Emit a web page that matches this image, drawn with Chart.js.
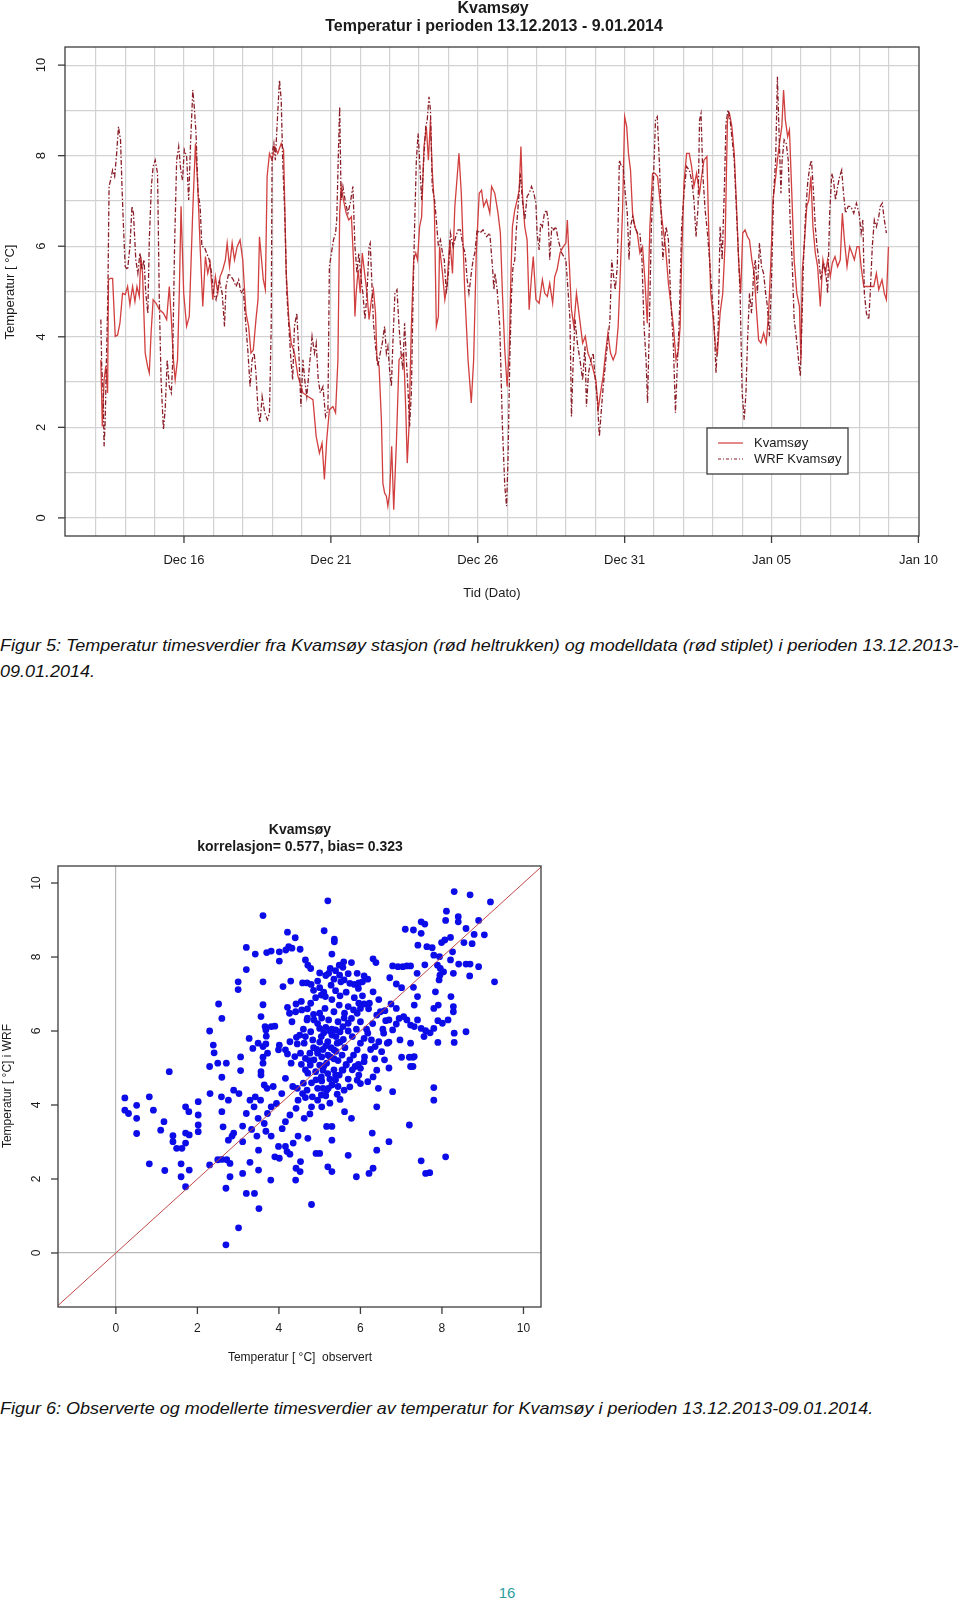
<!DOCTYPE html>
<html>
<head>
<meta charset="utf-8">
<script src="https://cdn.jsdelivr.net/npm/chart.js@4.4.1/dist/chart.umd.min.js"></script>
<style>
  body { margin: 0; background: #fff; width: 960px; height: 1606px; position: relative; overflow: hidden;
         font-family: "Liberation Sans", Arial, sans-serif; }
  canvas { position: absolute; left: 0; }
  .cap { position: absolute; left: 0; font-style: italic; font-size: 17px; line-height: 20px;
         white-space: nowrap; transform-origin: 0 0; color: #111; }
  #page { position: absolute; left: 0; width: 1014px; top: 1583px; text-align: center;
          color: #2b9ea0; font-size: 15px; line-height: 20px; }
</style>
</head>
<body>
<canvas id="chartTemperatur" width="960" height="610" style="top:0"></canvas>
<div class="cap" id="cap5a" style="top:636px">Figur 5: Temperatur timesverdier fra Kvamsøy stasjon (rød heltrukken) og modelldata (rød stiplet) i perioden 13.12.2013-</div>
<div class="cap" id="cap5b" style="top:662px">09.01.2014.</div>
<canvas id="chartScatter" width="960" height="580" style="top:800px"></canvas>
<div class="cap" id="cap6" style="top:1399px">Figur 6: Observerte og modellerte timesverdier av temperatur for Kvamsøy i perioden 13.12.2013-09.01.2014.</div>
<div id="page">16</div>

<script>
// Tidsserie: [dager etter 13.12.2013 00:00, temperatur °C]
const obsSeries = [
  [0.17,3.49],[0.22,2.02],[0.28,3.05],[0.34,3.35],[0.40,2.76],[0.43,5.26],[0.49,5.29],[0.57,5.29],
  [0.66,4.01],[0.74,4.04],[0.82,4.30],[0.91,4.96],[1.00,4.93],[1.08,5.11],[1.16,4.71],[1.25,5.11],
  [1.33,4.78],[1.40,5.11],[1.48,4.89],[1.53,5.77],[1.59,5.40],[1.68,3.64],[1.76,3.35],[1.82,3.20],
  [1.88,4.08],[1.95,4.82],[2.05,4.74],[2.16,4.60],[2.30,4.52],[2.41,4.38],[2.50,5.11],[2.57,4.38],
  [2.64,3.49],[2.70,3.05],[2.78,3.49],[2.84,4.96],[2.90,6.88],[2.99,4.96],[3.09,4.23],[3.18,4.45],
  [3.30,6.80],[3.39,8.27],[3.47,7.32],[3.55,5.99],[3.64,4.67],[3.73,5.77],[3.81,5.40],[3.89,5.63],
  [3.98,4.82],[4.07,5.33],[4.15,4.96],[4.23,5.33],[4.32,5.48],[4.41,5.70],[4.47,6.07],[4.55,5.55],
  [4.64,6.07],[4.72,5.70],[4.81,5.99],[4.91,6.14],[5.00,5.70],[5.11,4.52],[5.20,4.23],[5.28,3.64],
  [5.36,3.71],[5.45,4.38],[5.52,4.82],[5.57,6.21],[5.64,5.70],[5.70,5.26],[5.77,5.04],[5.83,7.54],
  [5.91,8.05],[6.00,7.90],[6.09,8.20],[6.19,8.05],[6.31,8.27],[6.39,8.13],[6.48,5.40],[6.57,4.38],
  [6.65,3.86],[6.76,3.64],[6.88,3.13],[7.05,2.76],[7.22,2.68],[7.39,2.61],[7.50,1.80],[7.61,1.43],
  [7.70,1.65],[7.78,0.85],[7.86,1.73],[7.95,2.39],[8.07,2.46],[8.16,2.32],[8.24,3.49],[8.30,6.73],
  [8.35,7.32],[8.43,7.02],[8.52,6.73],[8.61,6.58],[8.70,6.65],[8.77,5.70],[8.82,4.45],[8.86,4.96],
  [8.93,5.48],[9.00,4.96],[9.07,5.85],[9.15,5.40],[9.23,4.96],[9.30,4.38],[9.38,4.82],[9.45,5.04],
  [9.52,4.52],[9.57,3.49],[9.64,3.35],[9.72,2.17],[9.77,0.77],[9.83,0.55],[9.89,0.48],[9.94,0.26],
  [10.00,0.55],[10.07,1.58],[10.14,0.18],[10.23,1.65],[10.32,3.49],[10.40,3.57],[10.48,3.64],[10.55,2.39],
  [10.60,1.21],[10.66,2.02],[10.74,4.23],[10.82,5.70],[10.89,5.85],[10.95,5.70],[11.02,6.43],[11.09,6.65],
  [11.17,8.20],[11.25,8.64],[11.32,7.90],[11.39,8.79],[11.45,7.68],[11.52,6.95],[11.59,4.23],[11.66,4.45],
  [11.70,5.99],[11.80,5.40],[11.88,4.82],[11.95,5.11],[12.05,6.14],[12.14,5.40],[12.22,6.88],[12.30,7.54],
  [12.36,8.05],[12.44,7.17],[12.56,4.96],[12.67,3.49],[12.78,2.54],[12.86,3.49],[12.95,5.85],[13.05,7.17],
  [13.13,7.24],[13.20,6.88],[13.30,7.02],[13.41,6.73],[13.47,7.32],[13.58,7.17],[13.69,6.73],[13.77,6.29],
  [13.84,4.96],[13.92,3.71],[14.00,2.90],[14.07,3.64],[14.13,5.40],[14.18,6.43],[14.26,6.80],[14.34,7.02],
  [14.41,7.24],[14.47,8.20],[14.52,7.17],[14.60,6.43],[14.68,6.14],[14.75,4.60],[14.83,5.33],[14.89,5.77],
  [14.98,4.82],[15.09,4.74],[15.20,5.26],[15.28,4.96],[15.37,4.89],[15.45,5.18],[15.55,4.74],[15.62,5.33],
  [15.70,5.48],[15.80,5.85],[15.91,5.99],[16.00,6.07],[16.05,6.58],[16.11,5.70],[16.19,4.60],[16.27,4.23],
  [16.36,4.96],[16.43,4.60],[16.50,4.23],[16.57,3.86],[16.66,4.01],[16.75,3.64],[16.84,3.49],[16.93,3.27],
  [17.02,3.05],[17.10,2.39],[17.18,2.76],[17.27,3.13],[17.35,3.64],[17.43,4.08],[17.52,3.64],[17.61,3.49],
  [17.70,3.64],[17.78,4.23],[17.86,5.55],[17.93,6.80],[18.00,8.86],[18.07,8.64],[18.13,8.05],[18.20,7.68],
  [18.27,6.73],[18.35,6.43],[18.43,6.29],[18.52,5.85],[18.61,5.99],[18.69,5.26],[18.77,4.30],[18.86,6.43],
  [18.95,7.61],[19.03,7.61],[19.12,7.54],[19.20,7.02],[19.30,6.43],[19.39,5.99],[19.49,5.18],[19.57,4.74],
  [19.66,4.23],[19.75,3.49],[19.83,3.71],[19.89,4.23],[19.94,5.70],[20.02,7.39],[20.11,8.05],[20.20,8.05],
  [20.28,7.76],[20.36,7.32],[20.45,7.61],[20.55,7.17],[20.62,7.54],[20.70,7.90],[20.80,7.98],[20.86,6.43],
  [20.93,4.96],[21.02,4.38],[21.09,3.79],[21.16,3.64],[21.25,4.52],[21.34,4.96],[21.42,6.07],[21.50,8.79],
  [21.57,8.93],[21.65,8.64],[21.73,8.05],[21.80,7.02],[21.88,5.70],[21.95,4.96],[22.02,6.29],[22.10,6.36],
  [22.18,6.21],[22.25,6.14],[22.33,5.70],[22.41,5.40],[22.48,4.67],[22.56,3.93],[22.64,3.86],[22.73,4.08],
  [22.82,3.86],[22.90,4.52],[22.98,5.70],[23.05,7.02],[23.13,7.46],[23.20,7.90],[23.27,8.27],[23.35,8.64],
  [23.41,9.45],[23.47,8.79],[23.55,8.42],[23.61,8.57],[23.69,7.17],[23.77,5.70],[23.86,4.96],[23.95,4.67],
  [24.00,3.49],[24.05,5.48],[24.11,5.99],[24.20,6.88],[24.27,7.02],[24.34,7.54],[24.41,6.43],[24.49,5.85],
  [24.57,5.55],[24.66,4.67],[24.75,5.70],[24.83,5.40],[24.91,5.70],[25.00,5.33],[25.07,5.63],[25.16,5.77],
  [25.25,5.55],[25.34,5.70],[25.41,6.73],[25.48,6.14],[25.57,5.55],[25.66,5.99],[25.74,5.85],[25.82,5.70],
  [25.91,5.99],[25.98,5.99],[26.05,5.55],[26.14,5.11],[26.36,5.11],[26.48,5.11],[26.57,5.40],[26.65,5.04],
  [26.76,5.26],[26.84,4.96],[26.91,4.82],[26.98,5.99]
];

const wrfSeries = [
  [0.17,4.38],[0.20,3.35],[0.25,2.76],[0.28,1.58],[0.32,2.17],[0.36,3.49],[0.41,4.96],[0.45,7.32],
  [0.50,7.46],[0.57,7.68],[0.64,7.54],[0.70,7.98],[0.77,8.64],[0.84,8.35],[0.89,7.32],[0.94,6.43],
  [1.00,5.55],[1.08,5.48],[1.16,5.99],[1.23,6.88],[1.28,6.73],[1.36,5.70],[1.43,5.40],[1.50,5.85],
  [1.57,5.48],[1.64,5.70],[1.70,4.96],[1.77,4.52],[1.82,6.14],[1.89,7.32],[1.95,7.76],[2.02,7.90],
  [2.10,7.61],[2.16,4.82],[2.22,3.05],[2.30,1.95],[2.36,2.39],[2.43,3.49],[2.50,2.90],[2.57,2.76],
  [2.61,3.35],[2.68,5.99],[2.75,7.90],[2.82,8.20],[2.89,7.68],[2.95,7.46],[3.01,8.13],[3.09,7.98],
  [3.16,7.02],[3.22,8.20],[3.30,9.45],[3.35,9.08],[3.41,8.49],[3.48,7.17],[3.55,6.88],[3.61,5.99],
  [3.69,5.99],[3.77,5.85],[3.86,5.70],[3.94,5.40],[4.01,4.96],[4.09,4.82],[4.20,5.26],[4.30,4.96],
  [4.38,4.23],[4.43,5.11],[4.52,5.40],[4.60,5.33],[4.68,5.26],[4.77,5.11],[4.86,5.26],[4.94,4.96],
  [5.02,5.04],[5.11,4.23],[5.18,3.64],[5.25,2.90],[5.32,3.49],[5.39,3.64],[5.45,3.20],[5.52,2.39],
  [5.59,2.10],[5.66,2.68],[5.75,2.32],[5.84,2.17],[5.91,2.32],[5.97,4.23],[6.00,8.05],[6.06,8.27],
  [6.11,7.90],[6.19,8.93],[6.25,9.67],[6.31,9.23],[6.36,7.90],[6.43,6.73],[6.50,4.96],[6.57,4.23],
  [6.64,3.49],[6.70,3.05],[6.76,4.23],[6.84,4.52],[6.91,3.64],[6.98,2.46],[7.05,3.49],[7.11,3.05],
  [7.18,2.68],[7.27,3.35],[7.36,4.01],[7.44,3.64],[7.50,3.86],[7.57,3.05],[7.64,2.76],[7.73,2.90],
  [7.82,2.24],[7.90,2.39],[7.95,5.55],[8.02,5.85],[8.09,6.14],[8.16,6.29],[8.20,6.58],[8.25,7.90],
  [8.30,9.08],[8.35,7.02],[8.41,7.32],[8.50,6.95],[8.58,6.73],[8.66,6.95],[8.75,7.32],[8.82,5.99],
  [8.89,5.40],[8.95,5.85],[9.03,5.26],[9.09,4.96],[9.16,4.38],[9.23,4.96],[9.30,5.99],[9.34,6.07],
  [9.41,4.96],[9.45,4.30],[9.52,3.79],[9.60,3.35],[9.68,3.64],[9.75,3.86],[9.83,4.23],[9.89,3.64],
  [9.94,3.79],[10.00,3.27],[10.06,2.90],[10.11,3.86],[10.18,4.96],[10.25,5.04],[10.32,4.23],[10.39,3.64],
  [10.45,3.27],[10.51,4.30],[10.57,3.49],[10.63,2.76],[10.68,2.02],[10.74,2.76],[10.80,4.96],[10.85,6.43],
  [10.91,7.90],[10.97,8.49],[11.02,7.90],[11.09,7.02],[11.16,7.90],[11.23,8.64],[11.28,8.79],[11.34,9.30],
  [11.39,9.01],[11.45,7.32],[11.53,7.02],[11.59,6.58],[11.66,5.99],[11.73,6.14],[11.80,5.85],[11.86,5.70],
  [11.93,4.96],[12.00,5.40],[12.07,6.29],[12.16,5.99],[12.25,6.21],[12.33,6.36],[12.41,6.36],[12.50,5.99],
  [12.57,5.85],[12.64,5.26],[12.70,4.96],[12.78,5.40],[12.84,5.70],[12.90,5.85],[12.98,6.36],[13.07,6.29],
  [13.18,6.36],[13.30,6.21],[13.41,6.29],[13.50,5.55],[13.55,5.04],[13.59,5.40],[13.66,5.04],[13.75,4.23],
  [13.84,2.02],[13.92,0.70],[13.98,0.26],[14.03,1.29],[14.09,3.49],[14.15,4.96],[14.20,5.55],[14.26,5.70],
  [14.32,6.43],[14.39,7.02],[14.45,7.61],[14.52,7.02],[14.60,6.58],[14.68,7.10],[14.75,7.17],[14.83,7.32],
  [14.91,7.17],[14.98,6.95],[15.02,6.29],[15.09,5.92],[15.14,6.51],[15.20,6.43],[15.27,6.73],[15.34,6.80],
  [15.40,6.58],[15.45,5.70],[15.52,6.43],[15.59,6.36],[15.66,6.43],[15.74,6.14],[15.80,5.99],[15.86,5.85],
  [15.93,5.77],[16.00,5.70],[16.08,4.96],[16.14,4.38],[16.19,2.24],[16.25,3.49],[16.31,4.38],[16.39,3.86],
  [16.48,3.49],[16.57,3.05],[16.65,3.79],[16.70,2.46],[16.77,3.20],[16.85,3.49],[16.93,3.64],[16.99,3.13],
  [17.07,2.61],[17.14,1.80],[17.20,2.32],[17.27,2.90],[17.36,3.49],[17.43,3.93],[17.50,4.38],[17.56,5.70],
  [17.61,5.40],[17.68,5.04],[17.75,5.55],[17.82,7.90],[17.89,7.76],[17.95,7.76],[18.02,7.17],[18.09,6.73],
  [18.15,5.70],[18.20,6.43],[18.27,6.65],[18.35,6.43],[18.43,6.29],[18.52,6.29],[18.59,5.70],[18.66,4.23],
  [18.73,3.49],[18.78,2.54],[18.84,4.23],[18.91,6.43],[18.98,7.46],[19.05,8.79],[19.11,8.86],[19.18,7.90],
  [19.24,6.80],[19.30,5.70],[19.34,5.99],[19.41,6.43],[19.49,6.14],[19.57,4.82],[19.66,3.79],[19.73,2.32],
  [19.80,3.49],[19.86,4.38],[19.94,6.43],[20.02,7.17],[20.11,7.76],[20.20,7.68],[20.28,7.46],[20.36,7.02],
  [20.43,6.21],[20.50,6.88],[20.55,8.79],[20.60,8.93],[20.66,7.61],[20.74,6.80],[20.82,6.29],[20.89,5.70],
  [20.97,4.96],[21.05,4.23],[21.11,3.20],[21.18,4.08],[21.25,6.43],[21.32,5.70],[21.39,7.17],[21.45,8.71],
  [21.52,9.01],[21.59,8.79],[21.66,8.35],[21.73,7.90],[21.80,6.88],[21.88,5.70],[21.93,4.96],[22.00,2.76],
  [22.07,2.17],[22.13,2.76],[22.18,3.86],[22.25,4.96],[22.32,4.52],[22.39,5.40],[22.45,5.70],[22.52,4.96],
  [22.59,6.07],[22.66,5.55],[22.73,5.40],[22.80,4.96],[22.86,4.67],[22.93,4.01],[23.00,5.26],[23.07,7.17],
  [23.14,7.90],[23.20,9.74],[23.25,8.64],[23.32,7.17],[23.36,7.90],[23.43,8.35],[23.50,8.27],[23.57,7.90],
  [23.64,6.43],[23.70,5.70],[23.77,4.38],[23.84,4.01],[23.92,3.49],[23.98,3.13],[24.03,4.23],[24.09,5.70],
  [24.16,6.73],[24.23,7.39],[24.30,7.76],[24.36,7.90],[24.43,7.17],[24.49,6.43],[24.55,5.99],[24.61,5.70],
  [24.68,5.26],[24.77,5.63],[24.84,5.48],[24.91,4.96],[24.98,6.73],[25.05,7.61],[25.11,7.46],[25.18,7.02],
  [25.25,7.32],[25.32,7.54],[25.39,7.68],[25.45,7.17],[25.52,6.73],[25.61,6.88],[25.70,6.88],[25.80,6.73],
  [25.89,6.95],[25.98,6.73],[26.05,6.29],[26.11,6.58],[26.16,4.96],[26.23,4.52],[26.31,4.38],[26.36,4.96],
  [26.43,5.99],[26.50,6.58],[26.57,6.43],[26.65,6.65],[26.70,6.88],[26.77,6.95],[26.84,6.58],[26.91,6.29]
];

const dateTicks = [3, 8, 13, 18, 23, 28];
const dateLabels = ['Dec 16', 'Dec 21', 'Dec 26', 'Dec 31', 'Jan 05', 'Jan 10'];
const dayGrid = [0,1,2,3,4,5,6,7,8,9,10,11,12,13,14,15,16,17,18,19,20,21,22,23,24,25,26,27];
const tempGrid = [0,1,2,3,4,5,6,7,8,9,10];
const tempTicks = [0, 2, 4, 6, 8, 10];

// Spredningsplott: [observert, WRF]
const obsVsWrf = [
  [8.30,9.77],[8.69,9.68],[5.20,9.52],[9.19,9.49],[3.61,9.12],[8.11,9.24],[8.40,9.09],[8.40,8.95],
  [8.09,8.99],[8.90,8.99],[5.11,8.71],[7.49,8.95],[7.58,8.89],[7.10,8.75],[7.30,8.73],[7.49,8.64],
  [4.21,8.67],[4.40,8.52],[8.59,8.77],[9.04,8.60],[8.79,8.61],[5.36,8.48],[5.36,8.41],[8.21,8.53],
  [8.07,8.46],[7.99,8.39],[7.41,8.32],[7.63,8.28],[7.76,8.25],[8.54,8.39],[8.74,8.36],[3.20,8.26],
  [3.42,8.08],[3.70,8.12],[3.81,8.16],[4.01,8.14],[4.17,8.19],[4.24,8.28],[4.32,8.24],[4.52,8.21],
  [5.30,8.08],[8.26,8.14],[8.21,7.92],[7.94,8.01],[7.80,8.05],[6.31,7.95],[6.38,7.85],[4.01,7.89],
  [4.65,7.92],[4.71,7.78],[3.20,7.66],[4.78,7.69],[5.00,7.57],[5.26,7.69],[5.39,7.63],[5.57,7.72],
  [5.59,7.87],[5.78,7.85],[5.48,7.78],[5.22,7.56],[5.49,7.51],[5.92,7.56],[6.09,7.49],[6.79,7.76],
  [6.92,7.74],[7.04,7.74],[7.14,7.76],[7.23,7.76],[7.39,7.56],[7.58,7.79],[7.89,7.78],[7.96,7.69],
  [8.04,7.60],[7.95,7.51],[8.28,7.56],[8.41,7.81],[8.59,7.81],[8.69,7.81],[8.90,7.74],[8.68,7.49],
  [9.29,7.33],[3.00,7.33],[3.00,7.12],[3.61,7.33],[4.10,7.20],[4.29,7.35],[4.58,7.30],[4.69,7.30],
  [4.79,7.26],[5.00,7.17],[5.04,6.97],[5.14,6.93],[5.28,7.24],[5.39,7.09],[5.52,7.33],[5.60,7.38],
  [5.74,7.29],[5.85,7.26],[5.96,7.30],[6.05,7.33],[6.18,7.40],[6.31,7.06],[6.72,7.44],[6.88,7.27],
  [7.01,7.17],[7.30,7.18],[7.40,6.93],[7.84,7.06],[7.93,7.38],[8.22,6.93],
  [2.52,6.73],[3.61,6.71],[4.21,6.64],[4.42,6.73],[4.78,6.75],[2.60,6.34],[2.30,6.00],[2.39,5.62],
  [2.41,5.41],[2.50,5.13],[2.30,5.04],[2.71,5.13],[2.60,4.75],[3.06,5.30],[3.06,4.93],[3.27,5.80],
  [3.36,5.53],[3.49,5.67],[3.56,6.39],[3.66,6.12],[3.69,5.86],[3.68,6.03],[3.81,6.12],[3.90,6.13],
  [3.61,5.58],[3.68,5.65],[3.72,5.40],[3.61,5.29],[3.61,5.13],[3.56,4.90],[3.56,4.81],[3.64,4.54],
  [3.71,4.45],[3.86,4.50],[4.26,6.48],[4.32,6.25],[4.41,6.52],[4.27,5.71],[4.43,5.83],[4.51,5.89],
  [4.62,5.67],[4.65,5.85],[4.01,5.62],[4.16,5.49],[3.99,5.49],[4.21,5.38],[4.30,5.13],[4.39,5.31],
  [4.53,5.40],[4.65,5.26],[4.76,5.40],[4.83,5.76],[4.93,5.50],[5.08,5.50],[5.20,5.71],[5.30,5.89],
  [5.39,6.03],[5.50,5.98],[5.57,6.12],[5.70,6.21],[5.78,6.34],[5.92,6.48],[6.00,6.61],[6.09,6.73],
  [6.22,6.75],[6.40,6.43],[6.49,6.52],[6.62,6.28],[6.70,6.30],[6.79,6.03],[6.88,6.19],[6.95,6.34],
  [7.06,6.39],[7.14,6.30],[7.23,6.16],[7.32,6.12],[7.40,6.30],[7.49,6.07],[7.60,6.01],[7.71,5.95],
  [7.80,6.07],[7.90,6.28],[8.01,6.21],[8.15,6.30],[8.28,6.52],[8.28,6.66],[7.91,6.70],[7.80,6.61],
  [8.59,5.98],[8.30,5.69],[7.90,5.69],[7.32,5.31],[7.20,5.29],[7.29,5.04],[7.01,5.29],[6.70,5.00],
  [6.59,5.22],[6.52,5.44],[6.45,5.71],[6.36,5.58],[6.27,5.76],[6.18,5.94],[6.09,5.80],[6.00,5.67],
  [5.92,5.49],[5.83,5.35],[5.74,5.22],[5.65,5.08],[5.57,4.94],[5.48,4.81],[5.39,4.68],[5.30,4.54],
  [5.17,4.40],[5.04,4.27],[4.95,4.13],[4.82,4.22],[4.69,4.40],[4.58,4.31],[4.47,4.13],[4.42,3.91],
  [4.62,3.64],[4.76,3.76],[5.04,4.76],[5.08,4.94],[5.17,5.13],[5.26,5.30],[5.35,5.49],[5.43,5.67],
  [5.58,5.77],[5.74,4.49],[5.92,4.67],[6.00,4.58],[6.18,4.63],[6.31,4.76],[6.40,4.94],[6.00,4.99],
  [6.09,5.17],[5.87,5.04],[5.43,4.29],[5.21,4.45],[5.61,3.82],[5.78,3.64],[6.79,4.36],[6.40,3.95],
  [7.23,5.04],[7.29,5.29],[4.16,4.72],[4.07,4.31],[3.94,4.04],[3.81,3.95],[3.55,4.13],[3.42,4.22],
  [3.29,4.13],[3.39,3.95],[3.20,3.77],[3.11,3.43],[3.33,3.34],[3.46,3.16],[3.68,3.29],[3.81,3.16],
  [4.08,3.36],[4.16,3.55],[4.27,3.73],[4.35,2.97],[4.47,3.16],[3.64,3.50],[3.72,3.77],[3.49,3.64],
  [2.85,3.16],[2.76,3.05],[2.63,3.41],[2.89,3.24],[2.60,3.82],[2.76,4.13],[2.59,4.22],[3.02,4.31],
  [2.89,4.40],[2.31,4.31],[2.02,4.09],[1.71,3.95],[1.79,3.82],[2.02,3.73],[2.02,3.46],[2.02,3.28],
  [1.71,3.24],[1.80,3.19],[1.40,3.17],[1.40,3.01],[1.49,2.83],[1.62,2.83],[1.71,2.97],[1.10,3.32],
  [1.18,3.55],[0.92,3.86],[0.82,4.22],[0.51,3.99],[0.51,3.64],[0.51,3.23],[0.22,4.19],[0.22,3.86],
  [0.31,3.77],[1.31,4.90],[0.82,2.41],[1.20,2.23],[1.60,2.41],[1.80,2.24],[1.60,2.06],[1.71,1.79],
  [2.30,2.38],[2.50,2.52],[2.72,2.52],[2.80,2.42],[2.80,2.06],[2.70,1.75],[2.60,2.53],[3.11,3.01],
  [3.11,2.15],[3.29,2.45],[3.50,2.78],[3.50,2.24],[3.80,1.97],[3.99,2.88],[4.16,2.88],[3.90,2.60],
  [4.01,2.56],[4.27,2.67],[3.20,1.61],[3.40,1.61],[4.20,2.74],[4.42,2.29],[4.53,2.47],[4.41,1.97],
  [4.52,2.20],[4.71,3.10],[4.91,2.69],[5.00,2.69],[5.17,3.42],[5.30,3.42],[5.20,2.33],[5.30,2.20],
  [5.30,3.05],[5.70,2.64],[5.90,2.06],[6.21,2.15],[6.31,2.29],[6.29,3.24],[6.40,2.78],[6.70,3.01],
  [7.20,3.46],[7.49,2.49],[7.60,2.15],[7.70,2.17],[8.09,2.60],[7.80,4.47],[7.80,4.13],[6.44,4.45],
  [5.96,4.81],[5.39,4.81],[4.71,4.86],[4.60,4.59],[4.34,4.50],[4.91,4.68],[5.08,4.45],[4.86,5.22],
  [5.00,5.08],[4.77,5.08],[5.00,6.07],[4.86,6.30],[5.00,6.48],[5.13,6.61],[5.22,6.30],[5.35,6.52],
  [5.48,6.70],[5.61,6.48],[5.70,6.66],[5.83,6.57],[5.96,6.75],[4.78,5.98],[4.69,6.30],[4.56,6.57],
  [5.04,5.85],[6.57,5.94],[6.66,5.67],[6.97,5.76],[7.23,5.67],[7.56,5.85],[8.30,5.94],[6.75,6.73],
  [6.88,6.61],[7.32,6.70],
  [3.51,1.20],[3.01,0.68],[2.70,0.22],[4.80,1.31],
  [4.70,6.60],[4.85,6.45],[4.95,6.20],[5.05,6.35],[5.15,6.10],[5.25,6.00],[5.10,5.95],[5.00,5.70],
  [5.15,5.60],[5.28,5.55],[5.40,5.45],[5.20,5.35],[5.05,5.30],[5.35,5.25],[5.45,5.20],[5.55,5.35],
  [5.62,5.55],[5.50,5.70],[5.40,5.85],[5.30,6.05],[5.45,6.25],[5.60,6.35],[5.70,6.00],[5.80,5.85],
  [5.90,6.05],[6.00,6.25],[5.65,5.10],[5.55,4.95],[5.35,4.95],[5.20,4.85],[5.10,5.05],[4.95,5.40],
  [4.85,5.55],[4.75,5.20],[4.90,4.90],[5.05,4.65],[5.25,4.70],[5.45,4.50],[5.60,4.40],[5.15,4.25],
  [4.95,4.45],[4.80,4.60],[4.65,4.95],[4.55,5.10],[4.45,5.65],[4.60,6.05],[4.70,6.35],[4.55,6.80],
  [4.90,6.90],[5.10,7.05],[5.30,6.85],[5.50,6.95],[5.65,7.05],[5.85,6.90],[6.05,6.95],[6.20,6.60],
  [6.30,6.20],[6.15,6.05],[6.25,5.50],[6.35,5.25],[6.10,5.30],[5.95,5.10],[5.80,4.95],[5.70,4.70],
  [5.50,4.15],[5.25,4.05],[5.05,3.95],[4.80,3.95],[4.65,4.20],[4.45,4.45],[5.35,7.40],[5.15,7.50],
  [4.95,7.35],[4.85,7.10],[5.70,7.55],[5.95,7.15],[6.45,6.85],[6.60,6.55],[6.55,6.05],[6.70,5.70]
];
const scatterGrid = [0];
const scatterTicks = [0, 2, 4, 6, 8, 10];
const diagonal = [[-1.5, -1.5], [10.5, 10.5]];

const toXY = (pairs) => pairs.map(p => ({ x: p[0], y: p[1] }));
const FONT = '"Liberation Sans", Arial, sans-serif';

// R-style ramme, akser, titler og forklaring
const rStyle = {
  id: 'rStyle',
  afterDraw(chart, args, o) {
    const { ctx, chartArea: a, scales: { x, y } } = chart;
    ctx.save();
    ctx.strokeStyle = '#3c3c3c';
    ctx.lineWidth = 1.3;
    ctx.strokeRect(a.left, a.top, a.right - a.left, a.bottom - a.top);

    ctx.fillStyle = '#1a1a1a';
    ctx.font = o.tickFont + ' ' + FONT;
    ctx.textAlign = 'center';
    ctx.textBaseline = 'middle';
    o.xTicks.forEach((v, i) => {
      const px = x.getPixelForValue(v);
      ctx.beginPath(); ctx.moveTo(px, a.bottom); ctx.lineTo(px, a.bottom + 7); ctx.stroke();
      ctx.fillText(o.xLabels[i], px, a.bottom + o.xLabelGap);
    });
    o.yTicks.forEach((v) => {
      const py = y.getPixelForValue(v);
      ctx.beginPath(); ctx.moveTo(a.left, py); ctx.lineTo(a.left - 7, py); ctx.stroke();
      ctx.save();
      ctx.translate(o.yLabelX, py);
      ctx.rotate(-Math.PI / 2);
      ctx.fillText(String(v), 0, 0);
      ctx.restore();
    });

    o.texts.forEach(t => {
      ctx.font = t.font + ' ' + FONT;
      ctx.save();
      ctx.translate(t.x, t.y);
      if (t.rotate) ctx.rotate(-Math.PI / 2);
      ctx.fillText(t.text, 0, 0);
      ctx.restore();
    });

    if (o.legend) {
      const L = o.legend;
      const bx = a.right - L.right, by = a.top + L.top;
      ctx.strokeStyle = '#3c3c3c';
      ctx.lineWidth = 1.3;
      ctx.fillStyle = '#fff';
      ctx.fillRect(bx, by, L.w, L.h);
      ctx.strokeRect(bx, by, L.w, L.h);
      ctx.font = '13px ' + FONT;
      ctx.textAlign = 'left';
      L.items.forEach((it, i) => {
        const ly = by + 15 + i * 16;
        ctx.strokeStyle = it.color;
        ctx.lineWidth = 1.2;
        ctx.setLineDash(it.dash || []);
        ctx.beginPath(); ctx.moveTo(bx + 11, ly); ctx.lineTo(bx + 36, ly); ctx.stroke();
        ctx.setLineDash([]);
        ctx.fillStyle = '#1a1a1a';
        ctx.fillText(it.label, bx + 47, ly);
      });
    }
    ctx.restore();
  }
};

const plainScale = (min, max, grid, color, horizontal) => ({
  type: 'linear', min, max,
  afterBuildTicks: s => { s.ticks = grid.map(v => ({ value: v })); },
  afterFit: s => { if (horizontal) s.height = 0; else s.width = 0; },
  ticks: { display: false },
  grid: { color, lineWidth: 1.2, drawTicks: false },
  border: { display: false }
});

// Figur 5: tidsserie
new Chart(document.getElementById('chartTemperatur'), {
  type: 'line',
  data: {
    datasets: [
      { label: 'WRF Kvamsøy', data: toXY(wrfSeries), borderColor: '#8a1e28', borderWidth: 1.3,
        borderDash: [5, 2, 1.5, 2], pointRadius: 0, tension: 0 },
      { label: 'Kvamsøy', data: toXY(obsSeries), borderColor: '#d13f3f', borderWidth: 1.3,
        pointRadius: 0, tension: 0 }
    ]
  },
  options: {
    responsive: false, animation: false, devicePixelRatio: 1,
    layout: { padding: { left: 65, right: 41, top: 47, bottom: 74 } },
    plugins: {
      legend: { display: false }, tooltip: { enabled: false },
      rStyle: {
        tickFont: '13px', xTicks: dateTicks, xLabels: dateLabels, xLabelGap: 24,
        yTicks: tempTicks, yLabelX: 41,
        texts: [
          { text: 'Kvamsøy', x: 493, y: 9, font: 'bold 16px' },
          { text: 'Temperatur i perioden 13.12.2013 - 9.01.2014', x: 494, y: 27, font: 'bold 16px' },
          { text: 'Tid (Dato)', x: 492, y: 593, font: '13px' },
          { text: 'Temperatur [ °C]', x: 10, y: 292, font: '13px', rotate: true }
        ],
        legend: {
          right: 212, top: 381, w: 141, h: 46,
          items: [
            { label: 'Kvamsøy', color: '#d13f3f' },
            { label: 'WRF Kvamsøy', color: '#8a1e28', dash: [3, 2, 1, 2] }
          ]
        }
      }
    },
    scales: {
      x: plainScale(-1.05, 28.02, dayGrid, '#d2d2d2', true),
      y: plainScale(-0.4, 10.4, tempGrid, '#d2d2d2', false)
    }
  },
  plugins: [rStyle]
});

// Figur 6: spredningsplott
new Chart(document.getElementById('chartScatter'), {
  type: 'scatter',
  data: {
    datasets: [
      { type: 'line', data: toXY(diagonal), borderColor: '#c24848', borderWidth: 1,
        pointRadius: 0, tension: 0 },
      { data: toXY(obsVsWrf), backgroundColor: '#0c0ce8', borderWidth: 0, pointRadius: 3.4 }
    ]
  },
  options: {
    responsive: false, animation: false, devicePixelRatio: 1,
    layout: { padding: { left: 58, right: 419, top: 66, bottom: 73 } },
    plugins: {
      legend: { display: false }, tooltip: { enabled: false },
      rStyle: {
        tickFont: '12px', xTicks: scatterTicks, xLabels: scatterTicks.map(String), xLabelGap: 22,
        yTicks: scatterTicks, yLabelX: 37,
        texts: [
          { text: 'Kvamsøy', x: 300, y: 30, font: 'bold 14px' },
          { text: 'korrelasjon= 0.577, bias= 0.323', x: 300, y: 47, font: 'bold 14px' },
          { text: 'Temperatur [ °C]  observert', x: 300, y: 558, font: '12px' },
          { text: 'Temperatur [ °C] i WRF', x: 8, y: 286, font: '12px', rotate: true }
        ]
      }
    },
    scales: {
      x: plainScale(-1.42, 10.43, scatterGrid, '#b8b8b8', true),
      y: plainScale(-1.46, 10.46, scatterGrid, '#b8b8b8', false)
    }
  },
  plugins: [rStyle]
});

// Bildetekster: samme smale kursiv som originalen
const cap = document.getElementById('cap5a');
const k = 958 / cap.scrollWidth;
['cap5a', 'cap5b', 'cap6'].forEach(id => {
  document.getElementById(id).style.transform = 'scaleX(' + k + ')';
});
</script>
</body>
</html>
